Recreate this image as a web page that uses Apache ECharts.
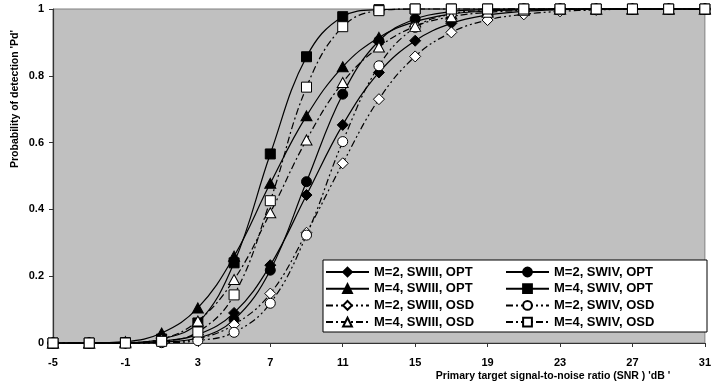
<!DOCTYPE html>
<html>
<head>
<meta charset="utf-8">
<script src="https://cdn.jsdelivr.net/npm/echarts@6/dist/echarts.min.js"></script>
<style>html,body{margin:0;padding:0;background:#fff}#c{width:714px;height:391px}</style>
</head>
<body>
<div id="c"></div>
<script>
var snr = [-5, -3, -1, 1, 3, 5, 7, 9, 11, 13, 15, 17, 19, 21, 23, 25, 27, 29, 31];
var xTicks = [-5, -1, 3, 7, 11, 15, 19, 23, 27, 31];
var yTicks = [0, 0.2, 0.4, 0.6, 0.8, 1];

var m2SW3opt = [0, 0, 0.001, 0.006, 0.025, 0.09, 0.233, 0.443, 0.653, 0.81, 0.905, 0.957, 0.982, 0.993, 0.998, 1, 1, 1, 1];
var m2SW4opt = [0, 0, 0, 0.003, 0.015, 0.07, 0.218, 0.483, 0.745, 0.905, 0.97, 0.992, 0.998, 1, 1, 1, 1, 1, 1];
var m4SW3opt = [0, 0, 0.004, 0.03, 0.105, 0.26, 0.478, 0.68, 0.827, 0.915, 0.962, 0.985, 0.994, 0.998, 1, 1, 1, 1, 1];
var m4SW4opt = [0, 0, 0.001, 0.012, 0.06, 0.24, 0.566, 0.857, 0.977, 0.998, 1, 1, 1, 1, 1, 1, 1, 1, 1];
var m2SW3osd = [0, 0, 0, 0.003, 0.013, 0.055, 0.148, 0.33, 0.538, 0.73, 0.858, 0.93, 0.967, 0.984, 0.993, 0.997, 1, 1, 1];
var m2SW4osd = [0, 0, 0, 0.001, 0.007, 0.032, 0.119, 0.323, 0.603, 0.83, 0.945, 0.985, 0.996, 1, 1, 1, 1, 1, 1];
var m4SW3osd = [0, 0, 0.001, 0.012, 0.066, 0.19, 0.39, 0.608, 0.78, 0.886, 0.948, 0.977, 0.99, 0.996, 1, 1, 1, 1, 1];
var m4SW4osd = [0, 0, 0, 0.005, 0.033, 0.144, 0.426, 0.766, 0.947, 0.995, 1, 1, 1, 1, 1, 1, 1, 1, 1];

var names = ['M=2, SWIII, OPT', 'M=2, SWIV, OPT', 'M=4, SWIII, OPT', 'M=4, SWIV, OPT',
             'M=2, SWIII, OSD', 'M=2, SWIV, OSD', 'M=4, SWIII, OSD', 'M=4, SWIV, OSD'];
var values = [m2SW3opt, m2SW4opt, m4SW3opt, m4SW4opt, m2SW3osd, m2SW4osd, m4SW3osd, m4SW4osd];
var symbols = ['diamond', 'circle', 'triangle', 'rect', 'diamond', 'circle', 'triangle', 'rect'];
var filled = [true, true, true, true, false, false, false, false];
var dashes = ['solid', 'solid', 'solid', 'solid', [7, 3, 2, 3, 2, 3], [7, 3, 2, 3, 2, 3], [7, 3, 2, 3], [7, 3, 2, 3]];

var series = names.map(function (n, i) {
  var sz = symbols[i] === 'diamond' ? [11, 11] : (symbols[i] === 'circle' ? 10 : (symbols[i] === 'triangle' ? [11, 10] : 10));
  return {
    name: n,
    type: 'line',
    smooth: 0.4,
    clip: false,
    data: snr.map(function (x, j) { return [x, values[i][j]]; }),
    symbol: symbols[i],
    symbolSize: sz,
    showAllSymbol: true,
    lineStyle: { color: '#000', width: 1.2, type: dashes[i] },
    itemStyle: { color: filled[i] ? '#000' : '#fff', borderColor: '#000', borderWidth: 1, opacity: 1 },
    emphasis: { disabled: true },
    z: 2 + i * 0.01
  };
});

var font = '"Liberation Sans", Arial, sans-serif';
var chart = echarts.init(document.getElementById('c'));
chart.setOption({
  animation: false,
  backgroundColor: '#fff',
  grid: { left: 53, right: 4, top: 9, bottom: 48, show: true, backgroundColor: '#C0C0C0', borderColor: '#808080', borderWidth: 1 },
  xAxis: {
    type: 'value', min: xTicks[0], max: xTicks[xTicks.length - 1], interval: 4,
    axisLine: { show: true, onZero: false, lineStyle: { color: '#333', width: 1.2 } },
    axisTick: { show: true, length: 4, inside: false, lineStyle: { color: '#333' } },
    splitLine: { show: false },
    axisLabel: { fontFamily: font, fontWeight: 'bold', fontSize: 11, color: '#000', margin: 14 }
  },
  yAxis: {
    type: 'value', min: yTicks[0], max: yTicks[yTicks.length - 1], interval: 0.2,
    axisLine: { show: true, onZero: false, lineStyle: { color: '#333', width: 1.2 } },
    axisTick: { show: true, length: 4, lineStyle: { color: '#333' } },
    splitLine: { show: false },
    axisLabel: { fontFamily: font, fontWeight: 'bold', fontSize: 11, color: '#000', margin: 9 }
  },
  legend: [
    {
      data: [names[0], names[2], names[4], names[6]],
      orient: 'vertical', left: 325, top: 265.5, itemWidth: 43, itemHeight: 11, itemGap: 3.7,
      selectedMode: false, padding: 0,
      textStyle: { fontFamily: font, fontWeight: 'bold', fontSize: 13, color: '#000', lineHeight: 13 }
    },
    {
      data: [names[1], names[3], names[5], names[7]],
      orient: 'vertical', left: 505, top: 265.5, itemWidth: 43, itemHeight: 11, itemGap: 3.7,
      selectedMode: false, padding: 0,
      textStyle: { fontFamily: font, fontWeight: 'bold', fontSize: 13, color: '#000', lineHeight: 13 }
    }
  ],
  graphic: [
    { type: 'rect', z: 3, shape: { x: 323, y: 260, width: 384, height: 72 }, style: { fill: '#fff', stroke: '#000', lineWidth: 1 } },
    { type: 'text', z: 5, x: 15.5, y: 99, rotation: Math.PI / 2,
      style: { text: "Probability of detection 'Pd'", font: 'bold 10.5px "Liberation Sans", Arial, sans-serif', fill: '#000', textAlign: 'center', textVerticalAlign: 'middle' } },
    { type: 'text', z: 5, x: 553, y: 376,
      style: { text: "Primary target signal-to-noise ratio (SNR ) 'dB '", font: 'bold 10.5px "Liberation Sans", Arial, sans-serif', fill: '#000', textAlign: 'center', textVerticalAlign: 'middle' } }
  ],
  series: series
});
</script>
</body>
</html>
